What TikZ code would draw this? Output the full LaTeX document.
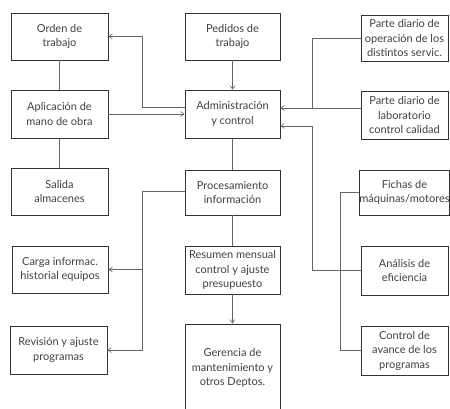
\documentclass[tikz,border=0pt]{standalone}
\usepackage{fontspec}
\setmainfont{Lato}
\usetikzlibrary{arrows.meta}

\begin{document}
\begin{tikzpicture}[x=1pt,y=-1pt]
        \tikzset{caja/.style={draw=black!80, line width=0.9pt, align=center, inner sep=0pt,
                  font=\fontsize{11}{14.5}\selectfont, text=black!75},
                 linea/.style={draw=black!60, line width=0.6pt},
                 flecha/.style={linea, -{Straight Barb[length=3.5pt,width=5pt]}}}
        \useasboundingbox (0,0) rectangle (450,408);
        \clip (0,0) rectangle (450,408);

        % left column
        \node [caja, minimum width=97pt, minimum height=47pt] (orden) at (59.5,36.5) {Orden de\\trabajo};
        \node [caja, minimum width=97pt, minimum height=48pt] (apl) at (59.5,114) {Aplicación de\\mano de obra};
        \node [caja, minimum width=97pt, minimum height=47pt] (salida) at (59.5,191.5) {Salida\\almacenes};
        \node [caja, minimum width=96pt, minimum height=47pt] (carga) at (60,269.5) {Carga informac.\\historial equipos};
        \node [caja, minimum width=97pt, minimum height=48pt] (revision) at (58.5,350) {Revisión y ajuste\\programas};

        % center column
        \node [caja, minimum width=95pt, minimum height=47pt] (pedidos) at (232.5,36.5) {Pedidos de\\trabajo};
        \node [caja, minimum width=95pt, minimum height=48pt] (adm) at (232.5,114) {Administración\\y control};
        \node [caja, minimum width=95pt, minimum height=45pt] (proc) at (232.5,192.5) {Procesamiento\\información};
        \node [caja, minimum width=95pt, minimum height=48pt] (resumen) at (232.5,270) {Resumen mensual\\control y ajuste\\presupuesto};
        \node [caja, minimum width=95pt, minimum height=88pt] (gerencia) at (232.5,368) {Gerencia de\\mantenimiento y\\otros Deptos.};

        % right column
        \node [caja, minimum width=87pt, minimum height=46pt] (parteop) at (404.5,38) {Parte diario de\\operación de los\\distintos servic.};
        \node [caja, minimum width=87pt, minimum height=48pt] (lab) at (404.5,115) {Parte diario de\\laboratorio\\control calidad};
        \node [caja, minimum width=87pt, minimum height=45pt] (fichas) at (404.5,192.5) {Fichas de\\máquinas/motores};
        \node [caja, minimum width=87pt, minimum height=49pt] (analisis) at (404.5,270.5) {Análisis de\\eficiencia};
        \node [caja, minimum width=87pt, minimum height=49pt] (control) at (404.5,350.5) {Control de\\avance de los\\programas};

        % junctions
        \coordinate (jizq) at (142,0);
        \coordinate (jder) at (312,0);
        \coordinate (jder2) at (340,0);

        % left links
        \draw [linea] (orden) -- (apl);
        \draw [linea] (apl) -- (salida);
        \draw [flecha] (apl.east) -- (apl.east -| adm.west);
        \draw [flecha] ([yshift=7pt]adm.west) -- ([yshift=7pt]adm.west -| jizq) |- (orden.east);
        \draw [linea] ([yshift=1pt]proc.west) -- ([yshift=1pt]proc.west -| jizq) |- (revision.east);
        \draw [flecha] (carga.east -| jizq) -- (carga.east);
        \draw [flecha] (revision.east -| jizq) -- (revision.east);

        % center links
        \draw [flecha] (pedidos) -- (adm);
        \draw [linea] (adm) -- (proc);
        \draw [linea] (proc) -- (resumen);
        \draw [flecha] (resumen) -- (gerencia);

        % right links
        \draw [linea] (parteop.west) -- (parteop.west -| jder) -- ([yshift=7pt]lab.west -| jder);
        \draw [flecha] ([yshift=7pt]lab.west) -- ([yshift=7pt]lab.west -| adm.east);
        \draw [flecha] (analisis.west) -- (analisis.west -| jder) -- ([yshift=-12pt]adm.east -| jder) -- ([yshift=-12pt]adm.east);
        \draw [linea] (fichas.west) -- (fichas.west -| jder2) |- (control.west);
    \end{tikzpicture}
\end{document}
